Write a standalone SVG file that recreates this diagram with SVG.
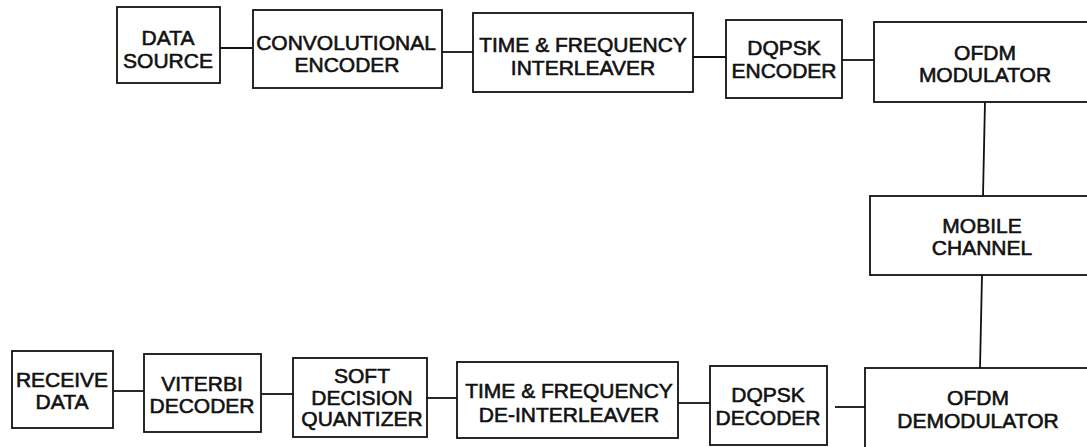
<svg xmlns="http://www.w3.org/2000/svg" width="1087" height="447" viewBox="0 0 1087 447">
<style>
rect{fill:#fff;stroke:#111;stroke-width:1.8}
.c line{stroke:#111;stroke-width:1.8}
text{font-family:"Liberation Sans",Arial,sans-serif;font-size:21px;fill:#111;stroke:#111;stroke-width:0.6;text-anchor:middle}
</style>
<rect x="0" y="0" width="1087" height="447" style="stroke:none"/>
<g class="c" id="connectors">
<line x1="220" y1="48" x2="253" y2="48"/>
<line x1="442" y1="52" x2="473" y2="52"/>
<line x1="693" y1="57" x2="726" y2="57"/>
<line x1="842" y1="60" x2="874" y2="60"/>
<line x1="985" y1="101" x2="983" y2="196"/>
<line x1="982" y1="275" x2="980" y2="368"/>
<line x1="835" y1="407" x2="865" y2="407"/>
<line x1="678" y1="403" x2="710" y2="403"/>
<line x1="427" y1="398" x2="457" y2="398"/>
<line x1="261" y1="394" x2="293" y2="394"/>
<line x1="113" y1="391" x2="144" y2="391"/>
</g>
<g id="data-source"><rect x="117" y="7" width="103" height="76"/><text x="168" y="45">DATA</text><text x="168" y="68">SOURCE</text></g>
<g id="conv-encoder"><rect x="253" y="10" width="189" height="78"/><text x="346" y="50">CONVOLUTIONAL</text><text x="347" y="72">ENCODER</text></g>
<g id="interleaver"><rect x="473" y="13" width="220" height="79"/><text x="583" y="52">TIME &amp; FREQUENCY</text><text x="583" y="75">INTERLEAVER</text></g>
<g id="dqpsk-encoder"><rect x="726" y="20" width="116" height="78"/><text x="784" y="55">DQPSK</text><text x="784" y="78">ENCODER</text></g>
<g id="ofdm-modulator"><rect x="874" y="22" width="222" height="80"/><text x="985" y="60">OFDM</text><text x="985" y="82">MODULATOR</text></g>
<g id="mobile-channel"><rect x="870" y="196" width="226" height="79"/><text x="982" y="233">MOBILE</text><text x="982" y="255">CHANNEL</text></g>
<g id="ofdm-demodulator"><rect x="865" y="368" width="230" height="85"/><text x="978" y="405">OFDM</text><text x="978" y="428">DEMODULATOR</text></g>
<g id="dqpsk-decoder"><rect x="710" y="366" width="117" height="79"/><text x="768" y="402">DQPSK</text><text x="768" y="425">DECODER</text></g>
<g id="deinterleaver"><rect x="457" y="362" width="221" height="76"/><text x="569" y="398">TIME &amp; FREQUENCY</text><text x="569" y="422">DE-INTERLEAVER</text></g>
<g id="soft-quantizer"><rect x="293" y="358" width="134" height="79"/><text x="362" y="383">SOFT</text><text x="362" y="405">DECISION</text><text x="362" y="426">QUANTIZER</text></g>
<g id="viterbi"><rect x="144" y="354" width="117" height="78"/><text x="202" y="391">VITERBI</text><text x="202" y="413">DECODER</text></g>
<g id="receive-data"><rect x="12" y="351" width="101" height="77"/><text x="62" y="387">RECEIVE</text><text x="62" y="409">DATA</text></g>
</svg>
